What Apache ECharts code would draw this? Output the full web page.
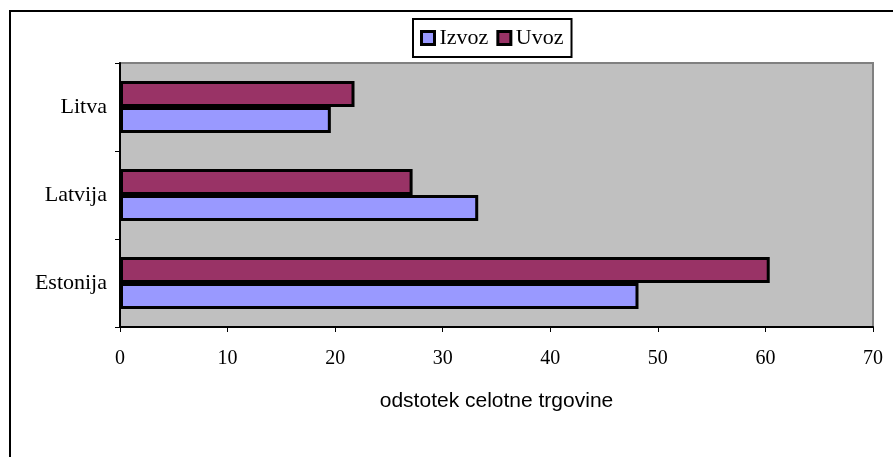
<!DOCTYPE html>
<html>
<head>
<meta charset="utf-8">
<script src="https://cdn.jsdelivr.net/npm/echarts@6/dist/echarts.min.js"></script>
<style>
  html, body { margin: 0; padding: 0; background: #fff; }
  #chart { width: 893px; height: 457px; }
</style>
</head>
<body>
<div id="chart"></div>
<script>
// countries, bottom to top as on the axis
const countries = ["Estonija", "Latvija", "Litva"];
// share of total trade, %
const izvoz = [48.2, 33.3, 19.6];
const uvoz = [60.4, 27.2, 21.8];
const xTicks = [0, 70, 10]; // min, max, interval

const chart = echarts.init(document.getElementById("chart"));

const serif = "'Liberation Serif', 'DejaVu Serif', serif";

const option = {
  animation: false,
  backgroundColor: "#fff",
  graphic: [
    {
      type: "rect",
      shape: { x: 10, y: 11, width: 900, height: 470 },
      style: { fill: "none", stroke: "#000", lineWidth: 2 },
      z: 100,
    },
  ],
  legend: {
    left: 413,
    top: 19,
    padding: [8, 8, 8, 7],
    itemGap: 8,
    itemWidth: 13,
    itemHeight: 13,
    icon: "rect",
    borderColor: "#000",
    borderWidth: 2,
    data: ["Izvoz", "Uvoz"],
    itemStyle: { borderColor: "#000", borderWidth: 3 },
    textStyle: { fontFamily: serif, fontSize: 22, color: "#000" },
  },
  grid: {
    left: 120,
    right: 20,
    top: 63,
    bottom: 130,
    show: true,
    backgroundColor: "#c0c0c0",
    borderColor: "#808080",
    borderWidth: 2,
  },
  xAxis: {
    type: "value",
    min: xTicks[0],
    max: xTicks[1],
    interval: xTicks[2],
    splitLine: { show: false },
    axisLine: { show: true, lineStyle: { color: "#000", width: 2 } },
    axisTick: { show: true, length: 5, lineStyle: { color: "#000" } },
    axisLabel: { margin: 22, fontFamily: serif, fontSize: 20, color: "#000" },
    name: "odstotek celotne trgovine",
    nameLocation: "middle",
    nameGap: 64,
    nameTextStyle: {
      fontFamily: "'Liberation Sans', Arial, sans-serif",
      fontSize: 21,
      color: "#000",
    },
  },
  yAxis: {
    type: "category",
    data: countries,
    axisLine: { show: true, lineStyle: { color: "#000", width: 2 } },
    axisTick: { show: true, length: 5, lineStyle: { color: "#000" } },
    axisLabel: { margin: 13, fontFamily: serif, fontSize: 22, color: "#000" },
  },
  series: [
    {
      name: "Uvoz",
      type: "bar",
      data: uvoz,
      barWidth: 26,
      barGap: "0%",
      itemStyle: { color: "#993366", borderColor: "#000", borderWidth: 3 },
    },
    {
      name: "Izvoz",
      type: "bar",
      data: izvoz,
      barWidth: 26,
      barGap: "0%",
      itemStyle: { color: "#9999ff", borderColor: "#000", borderWidth: 3 },
    },
  ],
};

chart.setOption(option);
</script>
</body>
</html>
